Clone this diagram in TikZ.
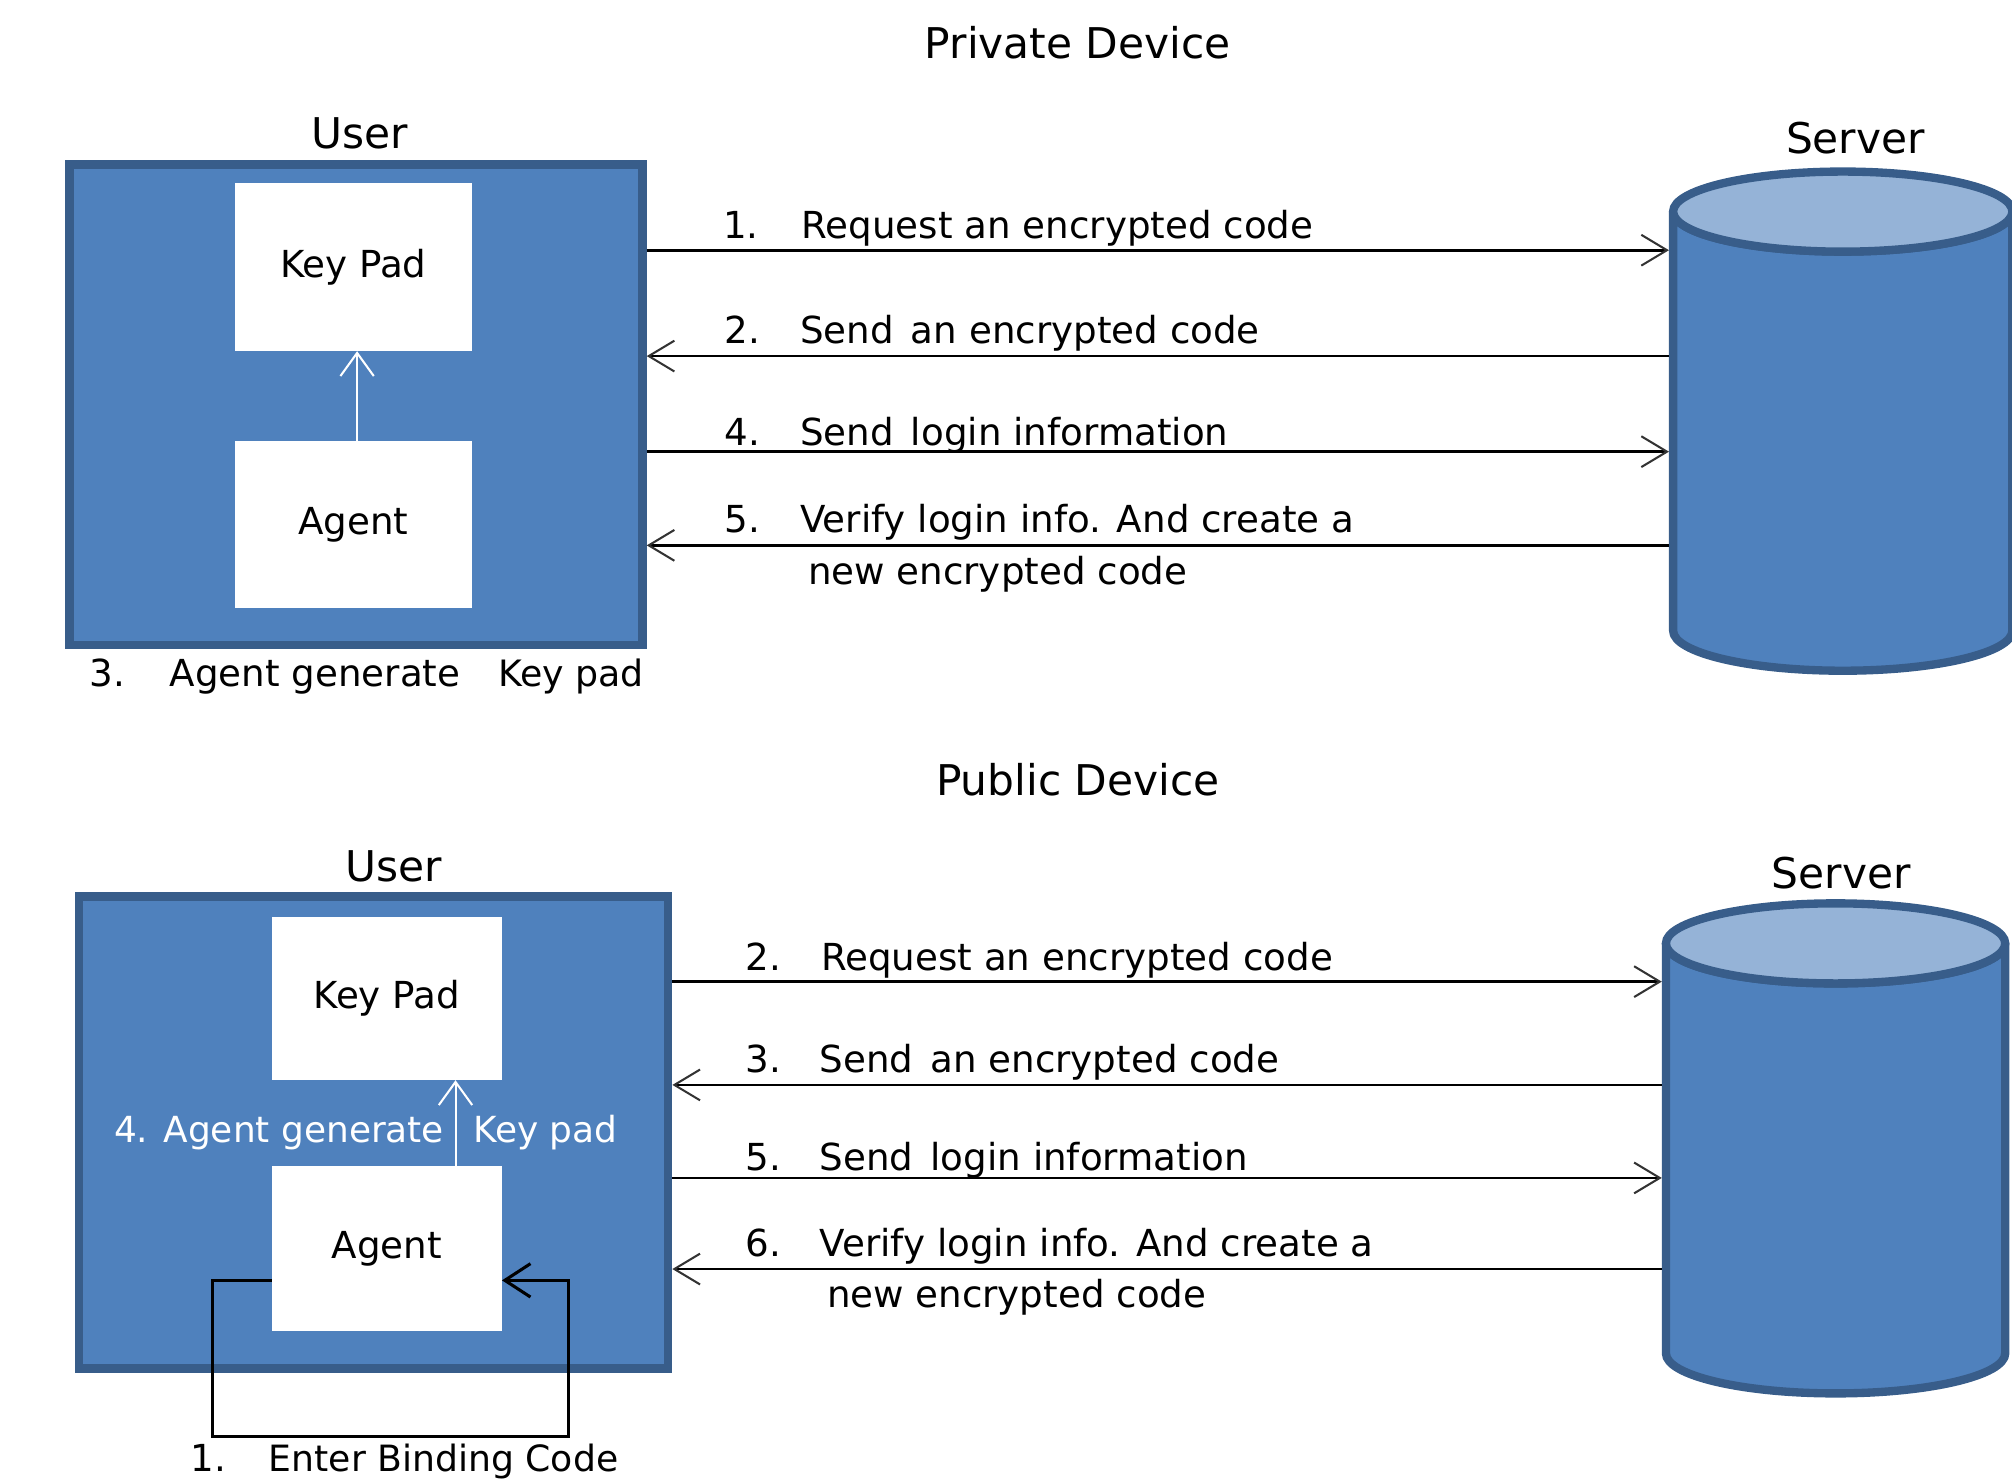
\documentclass[tikz,border=0pt]{standalone}
\usepackage{fontspec}
\setmainfont{DejaVu Sans}
\usetikzlibrary{arrows.meta}
\definecolor{boxfill}{HTML}{4F81BD}
\definecolor{boxline}{HTML}{385D8A}
\definecolor{captop}{HTML}{95B3D7}
\tikzset{
  userbox/.style={draw=boxline, fill=boxfill, line width=6.5pt, inner sep=0pt},
  unitbox/.style={fill=white, inner sep=0pt, font=\fontsize{29}{35}\selectfont},
  srvbox/.style={inner sep=0pt, outer sep=3.25pt, minimum width=264.4pt},
  heading/.style={inner sep=0pt, anchor=base, font=\fontsize{33}{40}\selectfont},
  lbl/.style={inner sep=0pt, anchor=base west, font=\fontsize{29}{40}\selectfont},
  msg/.style={line width=2.2pt, -{Straight Barb[length=20pt,width=24pt,line width=1.6pt,color=black!80]}},
  genarrow/.style={white, line width=1.6pt, -{Straight Barb[length=18pt,width=26pt,line width=1.6pt]}},
  bindline/.style={line width=2.2pt, -{Straight Barb[length=20pt,width=26pt,line width=2.4pt]}},
}
% server drum: #1 name, #2 centre x, #3 top ellipse centre y, #4 bottom ellipse centre y
\newcommand\servercyl[4]{%
  \filldraw[draw=boxline, fill=boxfill, line width=6.5pt, line join=round]
    ({#2-132.2},#3) -- ({#2-132.2},#4)
    arc[start angle=180, end angle=0, x radius=132.2, y radius=31.2]
    -- ({#2+132.2},#3)
    arc[start angle=0, end angle=180, x radius=132.2, y radius=31.2] -- cycle;
  \filldraw[draw=boxline, fill=captop, line width=6.5pt]
    (#2,#3) ellipse[x radius=132.2, y radius=31.2];
  \node[srvbox, minimum height={#4-#3+62.4}] (#1) at (#2,{(#3+#4)/2}) {};
}
\begin{document}
\begin{tikzpicture}[x=1pt, y=-1pt]
\useasboundingbox (0,0) rectangle (1568,1153);

% ---------------- private device ----------------
\node[heading] (privT) at (840,45.5) {Private Device};
\node[heading] (userTA) at (280.5,115.6) {User};
\node[heading] (servTA) at (1446,120) {Server};

\node[userbox, minimum width=446.5pt, minimum height=374.5pt] (uboxA) at (277.5,315.5) {};
\node[unitbox, minimum width=184.7pt, minimum height=131pt] (keyA) at (275.3,208) {Key Pad};
\node[unitbox, minimum width=184.7pt, minimum height=129.7pt] (agentA) at (275.3,408.7) {Agent};
\draw[genarrow] ([xshift=3pt]agentA.north) -- ([xshift=3pt]keyA.south);

\node[lbl] (n3A) at (69.6,535.2) {3.};
\node[lbl] (genA) at (132.2,535.2) {Agent generate};
\node[lbl, font=\fontsize{28.3}{40}\selectfont] (kpA) at (387.9,535.2) {Key pad};

\servercyl{srvA}{1436.1}{164.9}{491.5}

\draw[msg] (uboxA.east |- 0,195) -- (srvA.west |- 0,195);
\draw[msg] (srvA.west |- 0,277.5) -- (uboxA.east |- 0,277.5);
\draw[msg] (uboxA.east |- 0,352) -- (srvA.west |- 0,352);
\draw[msg] (srvA.west |- 0,425) -- (uboxA.east |- 0,425);

\node[lbl] (m1n) at (563.3,186) {1.};
\node[lbl] (m1t) at (624.5,186) {Request an encrypted code};
\node[lbl] (m2n) at (564.8,268) {2.};
\node[lbl] (m2t) at (623.5,268) {Send\hspace{4pt} an encrypted code};
\node[lbl] (m4n) at (564.8,347.3) {4.};
\node[lbl] (m4t) at (623.5,347.3) {Send\hspace{4pt} login information};
\node[lbl] (m5n) at (564.8,415) {5.};
\node[lbl] (m5t) at (623.5,415) {Verify login info. And create a};
\node[lbl] (m5u) at (629.5,455.3) {new encrypted code};

% ---------------- public device ----------------
\node[heading] (pubT) at (840,619.6) {Public Device};
\node[heading] (userTB) at (306.6,687.1) {User};
\node[heading] (servTB) at (1435,692.5) {Server};

\node[userbox, minimum width=459.2pt, minimum height=367.9pt] (uboxB) at (291.15,882.5) {};
\node[unitbox, minimum width=179.2pt, minimum height=127.2pt] (keyB) at (301.4,778) {Key Pad};
\node[unitbox, minimum width=179.2pt, minimum height=128.3pt] (agentB) at (301.4,973.2) {Agent};
\draw[genarrow] ([xshift=53.6pt]agentB.north) -- ([xshift=53.6pt]keyB.south);
\node[lbl, text=white, font=\fontsize{28}{40}\selectfont] (genB) at (88.7,890) {4. Agent generate};
\node[lbl, text=white, font=\fontsize{28}{40}\selectfont] (kpB) at (368.6,890) {Key pad};

% binding-code loop back into the agent
\coordinate (bindY) at (0,997.8);
\coordinate (loopL) at (165.3,1119.6);
\coordinate (loopR) at (443,1119.6);
\draw[bindline] (agentB.west |- bindY) -| (loopL) -- (loopR) |- (agentB.east |- bindY);
\node[lbl] (n1B) at (148.5,1147) {1.};
\node[lbl, font=\fontsize{28.2}{40}\selectfont] (bindT) at (209.3,1147) {Enter Binding Code};

\servercyl{srvB}{1430.5}{735.2}{1054.7}

\draw[msg] (uboxB.east |- 0,765) -- (srvB.west |- 0,765);
\draw[msg] (srvB.west |- 0,845.5) -- (uboxB.east |- 0,845.5);
\draw[msg] (uboxB.east |- 0,918) -- (srvB.west |- 0,918);
\draw[msg] (srvB.west |- 0,989) -- (uboxB.east |- 0,989);

\node[lbl] (b2n) at (581,756) {2.};
\node[lbl] (b2t) at (639.8,756) {Request an encrypted code};
\node[lbl] (b3n) at (581,836) {3.};
\node[lbl] (b3t) at (638.7,836) {Send\hspace{4pt} an encrypted code};
\node[lbl] (b5n) at (581,912.3) {5.};
\node[lbl] (b5t) at (638.7,912.3) {Send\hspace{4pt} login information};
\node[lbl] (b6n) at (581,979.3) {6.};
\node[lbl] (b6t) at (638.7,979.3) {Verify login info. And create a};
\node[lbl] (b6u) at (644.3,1018.8) {new encrypted code};
\end{tikzpicture}
\end{document}
